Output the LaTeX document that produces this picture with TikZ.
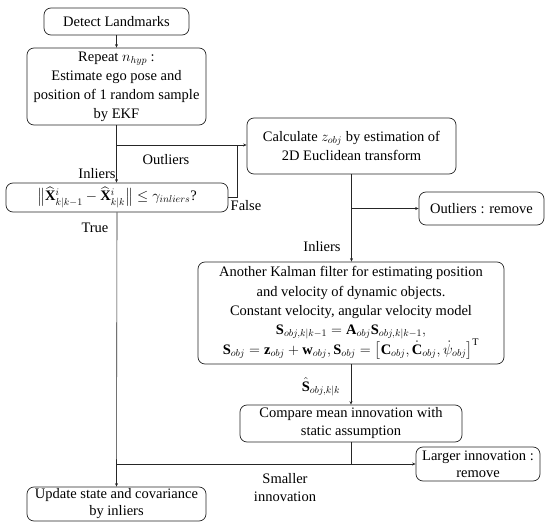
\documentclass[tikz,border=0pt]{standalone}
\usepackage{amsmath}
\usepackage{fontspec}
\setmainfont{Liberation Serif}
\usetikzlibrary{arrows.meta}
\begin{document}
\begin{tikzpicture}[x=1pt,y=-1pt,
  box/.style={draw=black!85,line width=0.7pt,rounded corners=7pt,align=center,inner sep=0pt,font=\rmfamily\fontsize{14.5}{19}\selectfont},
  lbl/.style={inner sep=0pt,align=center,font=\rmfamily\fontsize{14.5}{18}\selectfont},
  conn/.style={draw=black!85,line width=0.6pt},
  arr/.style={conn,-{Stealth[length=3.5pt,width=3pt]}}]
\useasboundingbox (0,0) rectangle (550,527);
\node[box,minimum width=145pt,minimum height=27pt] (detect) at (116.5,21.5) {Detect Landmarks};
\node[box,minimum width=179pt,minimum height=77pt] (repeat) at (116.5,86.5) {Repeat $n_{hyp}$ :\\ Estimate ego pose and\\ position of 1 random sample\\ by EKF};
\node[box,minimum width=209pt,minimum height=56pt] (calc) at (351.5,146) {Calculate $z_{obj}$ by estimation of\\ 2D Euclidean transform};
\node[box,minimum width=222pt,minimum height=29pt] (cond) at (117,197.5) {$\bigl\lVert \widehat{\mathbf{X}}^{i}_{k|k-1}-\widehat{\mathbf{X}}^{i}_{k|k}\bigr\rVert \leq \gamma_{inliers}$?};
\node[box,minimum width=125pt,minimum height=33pt] (outl) at (481.5,208.5) {Outliers : remove};
\node[box,minimum width=306pt,minimum height=102pt,font=\rmfamily\fontsize{14.5}{19.5}\selectfont] (kalman) at (351,313) {Another Kalman filter for estimating position\\ and velocity of dynamic objects.\\ Constant velocity, angular velocity model\\[-1pt] $\mathbf{S}_{obj,k|k-1}=\mathbf{A}_{obj}\mathbf{S}_{obj,k|k-1},$\\[-1pt] $\mathbf{S}_{obj}=\mathbf{z}_{obj}+\mathbf{w}_{obj},\mathbf{S}_{obj}=\bigl[\mathbf{C}_{obj},\dot{\mathbf{C}}_{obj},\dot{\psi}_{obj}\bigr]^{\mathrm{T}}$};
\node[box,minimum width=222pt,minimum height=37pt,font=\rmfamily\fontsize{14.5}{18}\selectfont] (compare) at (351,423.5) {Compare mean innovation with\\ static assumption};
\node[box,minimum width=124pt,minimum height=34pt,font=\rmfamily\fontsize{14.5}{17}\selectfont] (larger) at (478,464) {Larger innovation :\\ remove};
\node[box,minimum width=179pt,minimum height=34pt,font=\rmfamily\fontsize{14.5}{17}\selectfont] (update) at (116.5,504) {Update state and covariance\\ by inliers};
% junction coordinates
\coordinate (j1) at (116.5,145);
\coordinate (j2) at (237,145);
\coordinate (j3) at (237,197.5);
\coordinate (j4) at (351,208.5);
\coordinate (j5) at (351,464);
\coordinate (j6) at (117,464);
% connectors
\draw[arr] (detect) -- (repeat);
\draw[conn] (repeat.south) -- (j1);
\draw[arr] (j1) -- (calc.west |- j1);
\draw[arr] (j1) -- (cond.north -| j1);
\draw[conn] (cond.east) -- (j3) -- (j2);
\draw[arr] (cond.south) -- (update.north);
\draw[arr] (calc.south) -- (kalman.north -| calc.south);
\draw[arr] (j4) -- (outl.west);
\draw[arr] (kalman.south) -- (compare.north);
\draw[conn] (compare.south) -- (j5);
\draw[arr] (j6) -- (larger.west);
% labels
\node[lbl] (lout) at (166,160) {Outliers};
\node[lbl] (lin1) at (97,174) {Inliers};
\node[lbl] (lfalse) at (246,206) {False};
\node[lbl] (ltrue) at (95,228) {True};
\node[lbl] (lin2) at (322,247) {Inliers};
\node[lbl] (lshat) at (321,387) {$\hat{\mathbf{S}}_{obj,k|k}$};
\node[lbl] (lsmall) at (285,488) {Smaller\\ innovation};
\end{tikzpicture}
\end{document}
